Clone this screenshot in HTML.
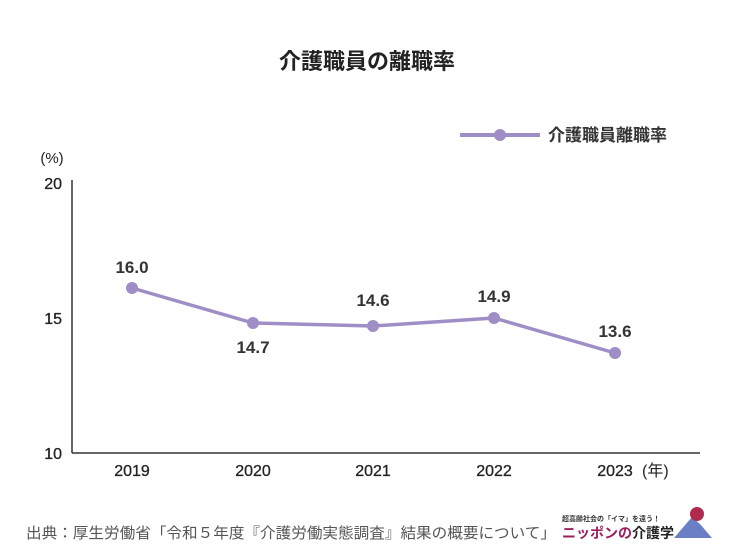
<!DOCTYPE html>
<html><head><meta charset="utf-8"><style>
body{margin:0;background:#fff;}
text{font-family:"Liberation Sans","Noto Sans CJK JP",sans-serif;}
</style></head><body>
<svg width="734" height="554" xmlns="http://www.w3.org/2000/svg">
<rect width="734" height="554" fill="#fff"/>
<text x="367" y="69" text-anchor="middle" font-size="22" font-weight="bold" fill="#222">介護職員の離職率</text>
<line x1="460" y1="135" x2="540" y2="135" stroke="#9f8dc6" stroke-width="4"/>
<circle cx="500" cy="135" r="6" fill="#9f8dc6"/>
<text x="548" y="141" font-size="17" font-weight="bold" fill="#333">介護職員離職率</text>
<text x="52" y="163" text-anchor="middle" font-size="15" fill="#222">(%)</text>
<g font-size="16" fill="#222" stroke="#222" stroke-width="0.3">
<text x="62" y="189" text-anchor="end">20</text>
<text x="62" y="324" text-anchor="end">15</text>
<text x="62" y="459" text-anchor="end">10</text>
</g>
<line x1="72" y1="180" x2="72" y2="453" stroke="#333" stroke-width="1.5"/>
<line x1="72" y1="453" x2="700" y2="453" stroke="#333" stroke-width="1.5"/>
<g font-size="16" fill="#222" stroke="#222" stroke-width="0.3" text-anchor="middle">
<text x="132" y="476">2019</text><text x="253" y="476">2020</text><text x="373" y="476">2021</text><text x="494" y="476">2022</text><text x="615" y="476">2023</text>
</g>
<text x="642" y="476" font-size="16" fill="#222">(年)</text>
<polyline points="132,288 253,323 373,326 494,318 615,353" fill="none" stroke="#9f8dc6" stroke-width="3.5"/>
<g fill="#9f8dc6"><circle cx="132" cy="288" r="6"/><circle cx="253" cy="323" r="6"/><circle cx="373" cy="326" r="6"/><circle cx="494" cy="318" r="6"/><circle cx="615" cy="353" r="6"/></g>
<g font-size="17" font-weight="bold" fill="#333" text-anchor="middle">
<text x="132" y="273">16.0</text><text x="253" y="353">14.7</text><text x="373" y="306">14.6</text><text x="494" y="302">14.9</text><text x="615" y="337">13.6</text>
</g>
<text x="26" y="538" font-size="15" fill="#555" textLength="530" lengthAdjust="spacingAndGlyphs">出典：厚生労働省「令和５年度『介護労働実態調査』結果の概要について」</text>
<text x="562" y="521" font-size="7" font-weight="bold" fill="#333">超高齢社会の「イマ」を遠う！</text>
<text x="562" y="538" font-size="14" font-weight="bold" fill="#9c1e5c">ニッポンの<tspan fill="#222">介護学</tspan></text>
<polygon points="674,538 692,517 700,524 712,538" fill="#6b7fc4"/>
<circle cx="697" cy="514" r="7" fill="#b02a4e"/>
</svg>
</body></html>
